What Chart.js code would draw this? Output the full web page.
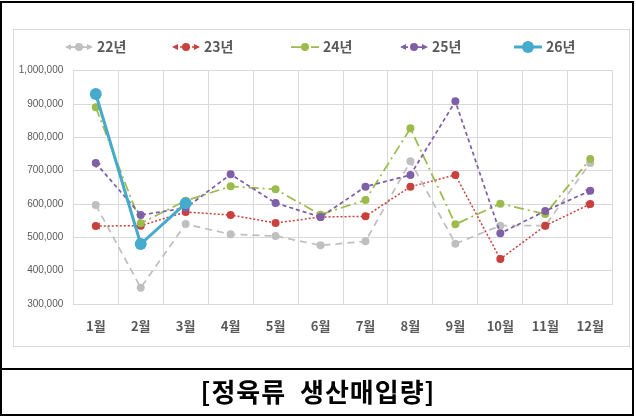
<!DOCTYPE html>
<html><head><meta charset="utf-8">
<script src="https://cdn.jsdelivr.net/npm/chart.js@4"></script>
<style>
html,body{margin:0;padding:0;background:#fff;}
#wrap{position:relative;width:636px;height:417px;overflow:hidden;}
#outer{position:absolute;left:0;top:1px;width:630px;height:411px;border:2px solid #000;}
#sep{position:absolute;left:0;top:368px;width:634px;height:2px;background:#000;}
#inner{position:absolute;left:13px;top:29px;width:615px;height:316px;border:1px solid #d9d9d9;}
#title{position:absolute;left:0;top:372px;width:636px;height:44px;line-height:44px;text-align:center;font:bold 26px "Noto Sans CJK KR",sans-serif;letter-spacing:1px;color:#000;}
canvas{position:absolute;left:0;top:0;}
</style>
</head><body>
<div id="wrap">
<div id="outer"></div>
<div id="sep"></div>
<div id="inner"></div>
<canvas id="c" width="636" height="417"></canvas>
<div id="title">[정육류&nbsp; 생산매입량]</div>
</div>
<script>
const categories = ['1월','2월','3월','4월','5월','6월','7월','8월','9월','10월','11월','12월'];
const seriesNames = ['22년','23년','24년','25년','26년'];
const s22 = [597000,349000,540000,509000,504000,476000,488000,728000,481000,535000,535000,723000];
const s23 = [534000,535000,576000,567000,543000,561000,563000,652000,687000,435000,535000,600000];
const s24 = [890000,542000,610000,653000,644000,568000,612000,827000,539000,601000,570000,735000];
const s25 = [723000,567000,588000,689000,603000,561000,652000,687000,908000,512000,579000,640000];
const s26 = [930000,480000,602000];
const yMin = 300000, yMax = 1000000, yStep = 100000;

const seriesValues = [s22,s23,s24,s25,s26];
const styles = [
  {color:'#BFBFBF', dash:[7,5], width:1.75, r:4, arrows:false, legendArrows:true},
  {color:'#C8413C', dash:[2,2], width:1.5, r:4, arrows:true, legendArrows:true},
  {color:'#9BBB4B', dash:[10,4,2,4], width:1.75, r:4, arrows:false, legendArrows:false},
  {color:'#7F5FA6', dash:[4,3], width:1.75, r:4, arrows:true, legendArrows:true},
  {color:'#45AACB', dash:[], width:3, r:6, arrows:false, legendArrows:false}
];
const KR = '"Noto Sans CJK KR", sans-serif';

const datasets = seriesValues.map((vals,i)=>({
  label: seriesNames[i],
  data: vals,
  borderColor: styles[i].color,
  backgroundColor: styles[i].color,
  pointBackgroundColor: styles[i].color,
  pointBorderColor: styles[i].color,
  borderWidth: styles[i].width,
  borderDash: styles[i].dash,
  pointRadius: styles[i].r,
  pointBorderWidth: 0,
  tension: 0,
  fill: false,
  order: seriesValues.length - i
}));

function arrowHead(ctx, tipX, tipY, dx, dy, len, half){
  const L = Math.hypot(dx,dy) || 1;
  const ux = dx/L, uy = dy/L;
  const bx = tipX - ux*len, by = tipY - uy*len;
  ctx.beginPath();
  ctx.moveTo(tipX, tipY);
  ctx.lineTo(bx - uy*half, by + ux*half);
  ctx.lineTo(bx + uy*half, by - ux*half);
  ctx.closePath();
  ctx.fill();
}

const arrowPlugin = {
  id:'lineArrows',
  afterDatasetsDraw(chart){
    const ctx = chart.ctx;
    ctx.save();
    chart.data.datasets.forEach((ds,i)=>{
      if(!styles[i].arrows) return;
      const pts = chart.getDatasetMeta(i).data;
      if(pts.length < 2) return;
      ctx.fillStyle = styles[i].color;
      const a = pts[0], b = pts[1];
      let dx = a.x-b.x, dy = a.y-b.y, L = Math.hypot(dx,dy);
      arrowHead(ctx, a.x+dx/L*3, a.y+dy/L*3, dx, dy, 7, 3.5);
      const z = pts[pts.length-1], y = pts[pts.length-2];
      dx = z.x-y.x; dy = z.y-y.y; L = Math.hypot(dx,dy);
      arrowHead(ctx, z.x+dx/L*3, z.y+dy/L*3, dx, dy, 7, 3.5);
    });
    ctx.restore();
  }
};

const legendPlugin = {
  id:'customLegend',
  afterDraw(chart){
    const ctx = chart.ctx;
    const textX = [97,204,323,432,546];
    const y = 47;
    ctx.save();
    seriesNames.forEach((name,i)=>{
      const st = styles[i];
      const x1 = textX[i]-32, x2 = textX[i]-4, cx = (x1+x2)/2;
      ctx.strokeStyle = st.color;
      ctx.fillStyle = st.color;
      ctx.lineWidth = st.width;
      ctx.setLineDash(st.dash);
      ctx.beginPath(); ctx.moveTo(x1+(st.legendArrows?4:0),y); ctx.lineTo(x2-(st.legendArrows?4:0),y); ctx.stroke();
      ctx.setLineDash([]);
      if(st.legendArrows){
        arrowHead(ctx, x1, y, -1, 0, 6, 3);
        arrowHead(ctx, x2, y, 1, 0, 6, 3);
      }
      ctx.beginPath(); ctx.arc(cx,y,st.r,0,Math.PI*2); ctx.fill();
      ctx.fillStyle = '#595959';
      ctx.font = 'bold 14px ' + KR;
      ctx.textBaseline = 'middle';
      ctx.textAlign = 'left';
      ctx.fillText(name, textX[i], y);
    });
    ctx.restore();
  }
};

new Chart(document.getElementById('c'), {
  type:'line',
  data:{labels:categories, datasets},
  options:{
    responsive:false,
    animation:false,
    devicePixelRatio:1,
    layout:{padding:{top:70.7,right:23.3,left:0,bottom:0}},
    plugins:{legend:{display:false},tooltip:{enabled:false},title:{display:false}},
    scales:{
      x:{
        type:'category',
        offset:true,
        grid:{offset:true,color:'#d9d9d9',drawTicks:false,lineWidth:1},
        border:{color:'#d9d9d9'},
        ticks:{padding:14,color:'#595959',font:{family:KR,size:13,weight:'bold'}},
        afterFit(s){ s.height = 113; }
      },
      y:{
        min:yMin,max:yMax,
        grid:{color:'#d9d9d9',drawTicks:false,lineWidth:1},
        border:{color:'#d9d9d9'},
        ticks:{stepSize:yStep,padding:10,color:'#595959',
          font:{family:'"Liberation Sans Narrow","Liberation Sans",sans-serif',size:10},
          callback:v=>v.toLocaleString('en-US')},
        afterFit(s){ s.width = 73.3; }
      }
    }
  },
  plugins:[arrowPlugin, legendPlugin]
});
</script>
</body></html>
